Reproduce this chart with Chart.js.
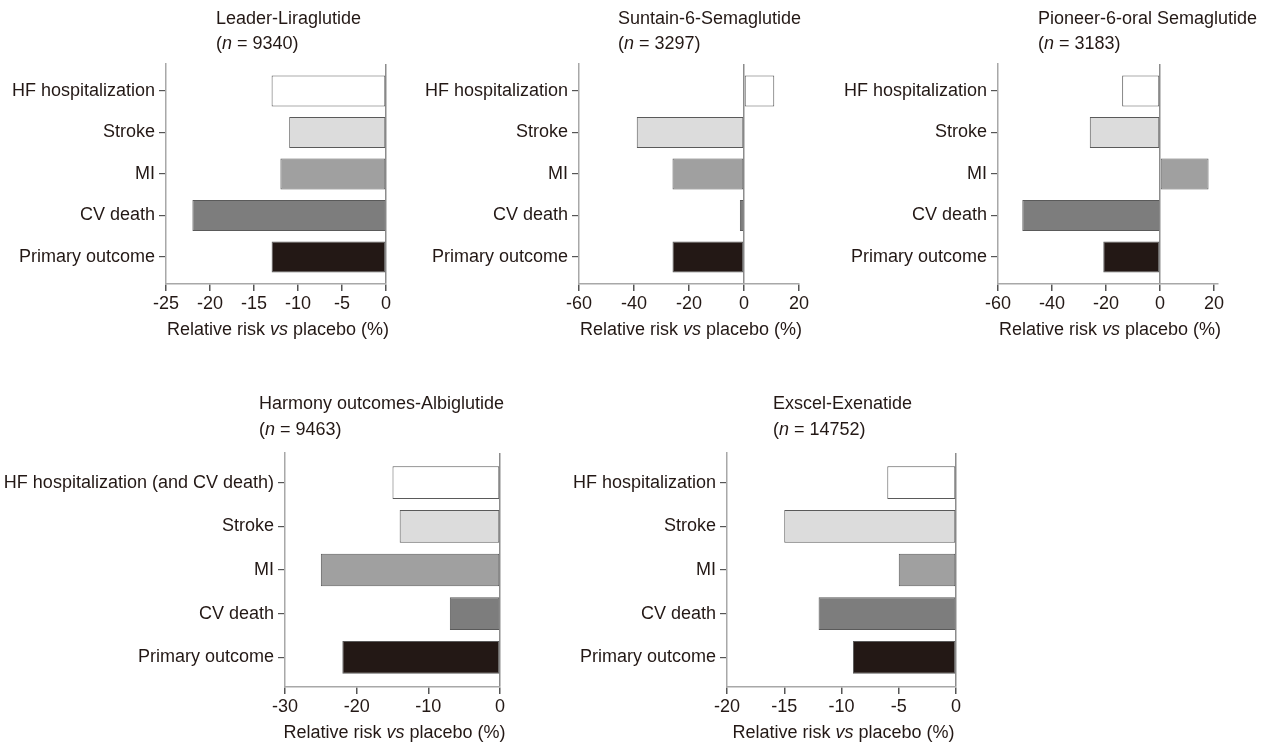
<!DOCTYPE html>
<html>
<head>
<meta charset="utf-8">
<script src="https://cdn.jsdelivr.net/npm/chart.js@4/dist/chart.umd.min.js"></script>
<style>
  body { margin: 0; background: #fff; }
  #wrap { position: relative; width: 1269px; height: 749px; overflow: hidden; }
  canvas { position: absolute; }
</style>
</head>
<body>
<div id="wrap">
  <canvas id="c1" width="400" height="350" style="left:0px;top:0px"></canvas>
  <canvas id="c2" width="420" height="350" style="left:400px;top:0px"></canvas>
  <canvas id="c3" width="449" height="350" style="left:820px;top:0px"></canvas>
  <canvas id="c4" width="540" height="374" style="left:0px;top:375px"></canvas>
  <canvas id="c5" width="440" height="374" style="left:540px;top:375px"></canvas>
</div>
<script>
// categories, top to bottom
const outcomes = ['HF hospitalization', 'Stroke', 'MI', 'CV death', 'Primary outcome'];
const outcomesHarmony = ['HF hospitalization (and CV death)', 'Stroke', 'MI', 'CV death', 'Primary outcome'];

// relative risk vs placebo (%)
const leaderValues = [-13, -11, -12, -22, -13];
const sustainValues = [11, -39, -26, -1.5, -26];
const pioneerValues = [-14, -26, 18, -51, -21];
const harmonyValues = [-15, -14, -25, -7, -22];
const exscelValues = [-6, -15, -5, -12, -9];

// x tick labels
const leaderTicks = [-25, -20, -15, -10, -5, 0];
const sustainTicks = [-60, -40, -20, 0, 20];
const pioneerTicks = [-60, -40, -20, 0, 20];
const harmonyTicks = [-30, -20, -10, 0];
const exscelTicks = [-20, -15, -10, -5, 0];

const barColors = ['#ffffff', '#dcdcdc', '#a0a0a0', '#7d7d7d', '#231815'];
const textColor = '#231815';
const FONT = '"Liberation Sans", Arial, sans-serif';
const FSIZE = 18;

Chart.defaults.font.family = FONT;
Chart.defaults.font.size = FSIZE;
Chart.defaults.color = textColor;

// draw a line of text made of plain / italic pieces
function drawSegs(ctx, segs, x, y, align) {
  let w = 0;
  segs.forEach(s => {
    ctx.font = (s.it ? 'italic ' : '') + FSIZE + 'px ' + FONT;
    w += ctx.measureText(s.t).width;
  });
  let cx = align === 'center' ? x - w / 2 : x;
  segs.forEach(s => {
    ctx.font = (s.it ? 'italic ' : '') + FSIZE + 'px ' + FONT;
    ctx.fillText(s.t, cx, y);
    cx += ctx.measureText(s.t).width;
  });
}

const axisTitle = [{t: 'Relative risk '}, {t: 'vs', it: true}, {t: ' placebo (%)'}];

function textPlugin(name, n, dx, dy) {
  return {
    id: 'richText',
    afterDraw(chart) {
      const ctx = chart.ctx, a = chart.chartArea;
      ctx.save();
      ctx.fillStyle = textColor;
      ctx.textBaseline = 'middle';
      ctx.textAlign = 'left';
      drawSegs(ctx, [{t: name}], a.left + dx, a.top + dy[0], 'left');
      drawSegs(ctx, [{t: '('}, {t: 'n', it: true}, {t: ' = ' + n + ')'}], a.left + dx, a.top + dy[1], 'left');
      drawSegs(ctx, axisTitle, (a.left + a.right) / 2 + 2, a.bottom + 46, 'center');
      ctx.restore();
    }
  };
}

function makeChart(id, labels, values, ticks, xmin, xmax, box, pad, title) {
  const canvas = document.getElementById(id);
  const W = canvas.width, H = canvas.height;
  return new Chart(canvas, {
    type: 'bar',
    data: {
      datasets: [{
        data: values.map((v, i) => ({x: v, y: i})),
        backgroundColor: barColors,
        borderColor: '#5a5a5a',
        borderWidth: 1,
        borderSkipped: false,
        barPercentage: 0.75,
        categoryPercentage: 1
      }]
    },
    options: {
      indexAxis: 'y',
      responsive: false,
      animation: false,
      layout: {padding: {left: 0, top: box.top, right: W - box.right, bottom: 0}},
      plugins: {legend: {display: false}, tooltip: {enabled: false}, title: {display: false}},
      scales: {
        x: {
          type: 'linear',
          min: xmin,
          max: xmax,
          offset: false,
          afterBuildTicks: s => { s.ticks = ticks.map(v => ({value: v})); },
          afterFit: s => { s.height = H - box.bottom; },
          ticks: {padding: 2, color: textColor, maxRotation: 0, autoSkip: false},
          grid: {
            offset: false,
            drawOnChartArea: true,
            color: c => (c.tick && c.tick.value === 0) ? '#8c8c8c' : 'rgba(0,0,0,0)',
            tickColor: '#555555',
            tickLength: 7,
            lineWidth: 1.5
          },
          border: {display: true, color: '#a8a8a8', width: 1.5}
        },
        y: {
          type: 'linear',
          reverse: true,
          offset: false,
          min: -pad,
          max: labels.length - 1 + pad,
          afterBuildTicks: s => { s.ticks = labels.map((l, i) => ({value: i})); },
          afterFit: s => { s.width = box.left; },
          ticks: {padding: 4, color: textColor, autoSkip: false, callback: v => labels[v]},
          grid: {offset: false, drawOnChartArea: false, tickColor: '#555555', tickLength: 7, lineWidth: 1.2},
          border: {display: true, color: '#a8a8a8', width: 1.5}
        }
      }
    },
    plugins: [textPlugin(title.name, title.n, title.dx, title.dy)]
  });
}

makeChart('c1', outcomes, leaderValues, leaderTicks, -25, 0,
  {left: 166, top: 64, right: 386, bottom: 284}, 0.65,
  {name: 'Leader-Liraglutide', n: '9340', dx: 50, dy: [-45, -20]});
makeChart('c2', outcomes, sustainValues, sustainTicks, -60, 20,
  {left: 179, top: 64, right: 399, bottom: 284}, 0.65,
  {name: 'Suntain-6-Semaglutide', n: '3297', dx: 39, dy: [-45, -20]});
makeChart('c3', outcomes, pioneerValues, pioneerTicks, -60, 21.5,
  {left: 178, top: 64, right: 398, bottom: 284}, 0.65,
  {name: 'Pioneer-6-oral Semaglutide', n: '3183', dx: 40, dy: [-45, -20]});
makeChart('c4', outcomesHarmony, harmonyValues, harmonyTicks, -30, 0,
  {left: 285, top: 78, right: 500, bottom: 312}, 0.68,
  {name: 'Harmony outcomes-Albiglutide', n: '9463', dx: -26, dy: [-49, -23]});
makeChart('c5', outcomes, exscelValues, exscelTicks, -20, 0,
  {left: 187, top: 78, right: 416, bottom: 312}, 0.68,
  {name: 'Exscel-Exenatide', n: '14752', dx: 46, dy: [-49, -23]});
</script>
</body>
</html>
